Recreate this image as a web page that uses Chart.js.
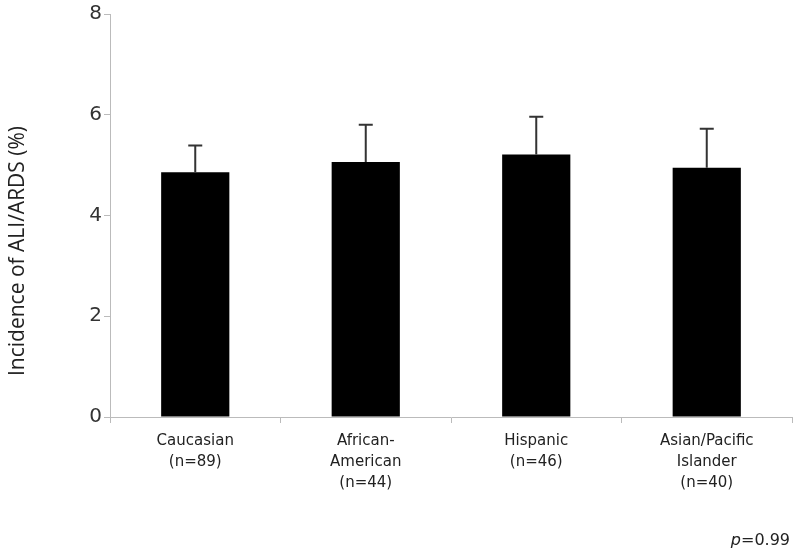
<!DOCTYPE html>
<html>
<head>
<meta charset="utf-8">
<script src="https://cdn.jsdelivr.net/npm/chart.js@4/dist/chart.umd.min.js"></script>
<style>
  html, body { margin: 0; padding: 0; background: #fff; }
  #wrap { width: 800px; height: 558px; }
</style>
</head>
<body>
<div id="wrap"><canvas id="myChart" width="800" height="558"></canvas></div>
<script>
var groups = [
    ["Caucasian", "(n=89)"],
    ["African-", "American", "(n=44)"],
    ["Hispanic", "(n=46)"],
    ["Asian/Pacific", "Islander", "(n=40)"]
];
var incidence = [4.86, 5.06, 5.21, 4.95];
var upperError = [5.39, 5.80, 5.96, 5.72];
var yTicks = [0, 2, 4, 6, 8];
var yTitle = "Incidence of ALI/ARDS (%)";
var pValue = "0.99";

// draws the one-sided error bars, the y title and the p value
var extras = {
    id: 'extras',
    afterDatasetsDraw: function (chart) {
        var c = chart.ctx;
        var y = chart.scales.y;
        var meta = chart.getDatasetMeta(0);
        c.save();
        c.strokeStyle = '#333';
        c.lineWidth = 2;
        meta.data.forEach(function (bar, i) {
            var top = y.getPixelForValue(upperError[i]);
            c.beginPath();
            c.moveTo(bar.x, bar.y);
            c.lineTo(bar.x, top);
            c.moveTo(bar.x - 7, top);
            c.lineTo(bar.x + 7, top);
            c.stroke();
        });
        c.restore();
    },
    afterDraw: function (chart) {
        var c = chart.ctx;
        c.save();
        c.fillStyle = '#222';
        c.font = '21px "Open Sans", sans-serif';
        c.textAlign = 'center';
        c.textBaseline = 'middle';
        c.translate(18, 251);
        c.rotate(-Math.PI / 2);
        c.fillText(yTitle, 0, 0);
        c.restore();

        c.save();
        c.fillStyle = '#222';
        c.textBaseline = 'middle';
        c.textAlign = 'right';
        c.font = '16px "DejaVu Sans", sans-serif';
        var rest = '=' + pValue;
        var right = 790;
        c.fillText(rest, right, 541);
        var w = c.measureText(rest).width;
        c.font = 'italic 16px "DejaVu Sans", sans-serif';
        c.fillText('p', right - w, 541);
        c.restore();
    }
};

var ctx = document.getElementById('myChart').getContext('2d');
var chart = new Chart(ctx, {
    type: 'bar',
    data: {
        labels: groups,
        datasets: [{
            label: "Incidence",
            data: incidence,
            backgroundColor: '#000',
            borderWidth: 0,
            barPercentage: 0.4,
            categoryPercentage: 1.0
        }]
    },
    options: {
        responsive: false,
        animation: false,
        layout: { padding: { top: 11, right: 8, bottom: 0, left: 0 } },
        plugins: {
            legend: { display: false },
            tooltip: { enabled: false }
        },
        scales: {
            x: {
                grid: { drawOnChartArea: false, drawTicks: true, tickLength: 6, color: '#bbb' },
                border: { color: '#bbb', width: 1 },
                ticks: {
                    color: '#222',
                    padding: 8,
                    maxRotation: 0,
                    font: { family: '"DejaVu Sans", sans-serif', size: 15, lineHeight: 1.4 }
                },
                afterFit: function (scale) { scale.height = 141; }
            },
            y: {
                min: 0,
                max: 8,
                afterBuildTicks: function (scale) {
                    scale.ticks = yTicks.map(function (v) { return { value: v }; });
                },
                grid: { drawOnChartArea: false, drawTicks: true, tickLength: 6, color: '#bbb' },
                border: { color: '#bbb', width: 1 },
                ticks: {
                    color: '#333',
                    padding: 2,
                    font: { family: '"DejaVu Sans", sans-serif', size: 20 }
                },
                afterFit: function (scale) { scale.width = 110; }
            }
        }
    },
    plugins: [extras]
});
</script>
</body>
</html>
